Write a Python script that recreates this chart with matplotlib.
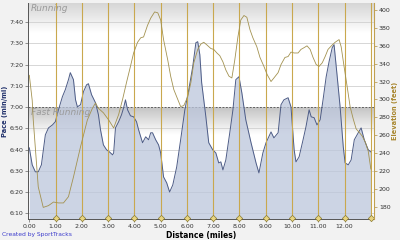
import matplotlib
matplotlib.use("Agg")
import matplotlib.pyplot as plt
import numpy as np

# ---- data ----
pace_dist = [0.00, 0.11, 0.23, 0.34, 0.46, 0.61, 0.73, 0.88, 0.99, 1.11, 1.26, 1.37, 1.49, 1.56,
             1.68, 1.76, 1.83, 1.95, 2.06, 2.18, 2.25, 2.37, 2.52, 2.63, 2.71, 2.82, 2.94, 3.05,
             3.17, 3.21, 3.28, 3.40, 3.51, 3.59, 3.66, 3.74, 3.85, 3.97, 4.08, 4.16, 4.31, 4.43,
             4.54, 4.62, 4.69, 4.81, 4.92, 5.00, 5.11, 5.23, 5.34, 5.46, 5.61, 5.76, 5.92, 6.07,
             6.22, 6.34, 6.41, 6.49, 6.56, 6.72, 6.83, 6.98, 7.10, 7.21, 7.29, 7.37, 7.48, 7.63,
             7.75, 7.86, 7.98, 8.09, 8.24, 8.44, 8.63, 8.74, 8.89, 9.01, 9.20, 9.31, 9.47, 9.58,
             9.69, 9.85, 9.96, 10.08, 10.15, 10.27, 10.42, 10.53, 10.65, 10.73, 10.84, 10.95,
             11.07, 11.18, 11.30, 11.41, 11.53, 11.60, 11.72, 11.83, 11.95, 12.02, 12.14, 12.25,
             12.37, 12.52, 12.63, 12.75, 12.90, 13.00]
pace_sec = [400.8, 392.8, 389.5, 389.5, 392.8, 406.9, 410.2, 411.6, 413.1, 418.7, 424.9, 428.2,
            432.9, 436.2, 432.9, 423.4, 420.1, 421.1, 427.2, 430.5, 431.0, 425.8, 422.0, 416.4,
            409.3, 402.2, 399.9, 398.9, 397.5, 398.4, 410.2, 413.1, 416.4, 419.7, 423.4, 418.7,
            415.9, 415.4, 413.1, 409.3, 403.2, 406.0, 404.6, 407.9, 407.9, 404.6, 402.2, 398.4,
            387.1, 384.3, 380.0, 383.3, 391.8, 404.6, 418.7, 428.2, 439.0, 450.3, 450.8, 444.7,
            431.5, 415.4, 403.2, 399.9, 398.4, 393.7, 394.2, 390.4, 395.1, 407.9, 418.7, 432.9,
            434.3, 426.7, 414.0, 403.2, 393.7, 389.0, 398.4, 403.2, 408.3, 405.5, 407.9, 421.1,
            423.4, 424.4, 420.1, 399.9, 394.2, 396.6, 404.6, 410.7, 418.7, 415.4, 415.0, 411.6,
            414.0, 423.4, 434.3, 441.4, 448.0, 449.4, 434.3, 420.1, 401.3, 393.7, 392.8, 395.1,
            404.6, 407.9, 410.2, 404.6, 399.9, 398.9]

elev_dist = [0.00, 0.11, 0.15, 0.34, 0.53, 0.73, 0.92, 1.11, 1.30, 1.49, 1.68, 1.95, 2.21, 2.40,
             2.52, 2.63, 2.82, 3.02, 3.21, 3.40, 3.55, 3.70, 3.85, 3.97, 4.12, 4.24, 4.35, 4.50,
             4.62, 4.77, 4.89, 5.00, 5.11, 5.27, 5.38, 5.50, 5.65, 5.76, 5.88, 6.03, 6.15, 6.26,
             6.41, 6.53, 6.64, 6.76, 6.91, 7.02, 7.14, 7.25, 7.37, 7.48, 7.60, 7.71, 7.82, 7.94,
             8.05, 8.17, 8.28, 8.40, 8.51, 8.66, 8.78, 8.93, 9.05, 9.20, 9.31, 9.47, 9.58, 9.73,
             9.85, 9.96, 10.08, 10.23, 10.34, 10.46, 10.57, 10.69, 10.80, 10.92, 11.03, 11.15,
             11.26, 11.37, 11.53, 11.64, 11.79, 11.87, 11.98, 12.10, 12.21, 12.33, 12.44, 12.56,
             12.67, 12.79, 12.90, 13.00]
elev_ft = [327, 299, 277, 202, 179, 181, 185, 184, 184, 191, 213, 247, 277, 290, 296, 290, 285,
           277, 268, 283, 300, 319, 337, 352, 364, 369, 370, 383, 391, 398, 397, 389, 367, 344,
           326, 311, 300, 292, 293, 303, 319, 341, 356, 362, 364, 361, 357, 356, 352, 349, 342,
           333, 326, 324, 344, 370, 389, 394, 392, 378, 369, 359, 347, 337, 328, 320, 324, 330,
           339, 347, 348, 353, 352, 352, 356, 358, 360, 356, 347, 339, 337, 341, 348, 356, 361,
           364, 367, 359, 337, 314, 292, 278, 267, 263, 259, 252, 242, 222]

lap_marks = [1, 2, 3, 4, 5, 6, 7, 8, 9, 10, 11, 12, 13.0]
x_ticks = [0, 1, 2, 3, 4, 5, 6, 7, 8, 9, 10, 11, 12]
pace_ticks = [370, 380, 390, 400, 410, 420, 430, 440, 450, 460]
pace_labels = ["6:10", "6:20", "6:30", "6:40", "6:50", "7:00", "7:10", "7:20", "7:30", "7:40"]
elev_ticks = [180, 200, 220, 240, 260, 280, 300, 320, 340, 360, 380, 400]
zone_limit = 420  # 7:00 boundary between "Fast Running" and "Running"

# ---- figure ----
fig = plt.figure(figsize=(4.0, 2.4), dpi=100, facecolor="#f2f2f2")
ax = fig.add_axes([0.07, 0.0875, 0.865, 0.9])
ax.set_facecolor("white")
xmin, xmax = -0.05, 13.12
pmin, pmax = 367.3, 469.0
ax.set_xlim(xmin, xmax)
ax.set_ylim(pmin, pmax)

# zone gradients
top_grad = np.linspace(0, 1, 64).reshape(-1, 1)
cmap_top = matplotlib.colors.LinearSegmentedColormap.from_list("t", ["#ffffff", "#d6d6d6"])
ax.imshow(top_grad, extent=[xmin, xmax, 455, pmax], origin="lower", aspect="auto",
          cmap=cmap_top, zorder=0.2)
cmap_fast = matplotlib.colors.LinearSegmentedColormap.from_list("f", ["#ffffff", "#c4c4c4"])
ax.imshow(top_grad, extent=[xmin, xmax, 407, zone_limit], origin="lower", aspect="auto",
          cmap=cmap_fast, zorder=0.2)

# grid
for t in pace_ticks:
    ax.axhline(t, color="#d0d0d0", lw=0.6, zorder=0.3)
ax.axhline(zone_limit, color="#606060", lw=0.7, ls=(0, (2, 1.5)), zorder=0.35)

# pace area
ax.fill_between(pace_dist, pmin, pace_sec, color="#bcc6dc", alpha=0.75, lw=0, zorder=1)
ax.plot(pace_dist, pace_sec, color="#4d5c86", lw=0.7, zorder=2)

# lap lines
for m in lap_marks:
    ax.axvline(m, color="#c9a84e", lw=0.8, zorder=3)
ax.plot(lap_marks, [pmin + 0.4] * len(lap_marks), ls="none", marker="D", ms=3.2,
        mfc="#e8d480", mec="#8a7a30", mew=0.5, zorder=5, clip_on=False)

ax.text(0.05, 466.5, "Running", style="italic", fontsize=6.5, color="#9a9a9a",
        ha="left", va="center", zorder=4)
ax.text(0.05, 417.5, "Fast Running", style="italic", fontsize=6.5, color="#9a9a9a",
        ha="left", va="center", zorder=4)

ax.set_xticks(x_ticks)
ax.set_xticklabels([f"{v:.2f}" for v in x_ticks], fontsize=4.5, color="#333333")
ax.set_yticks(pace_ticks)
ax.set_yticklabels(pace_labels, fontsize=4.5, color="#333333")
ax.tick_params(length=2, width=0.5, pad=1.5, color="#666666")
ax.set_xlabel("Distance (miles)", fontsize=5.5, fontweight="bold", labelpad=1.5)
ax.set_ylabel("Pace (min/mi)", fontsize=4.8, fontweight="bold", color="#1f2f6a", labelpad=1)
for s in ["top", "right"]:
    ax.spines[s].set_visible(False)
ax.spines["left"].set_color("#555555")
ax.spines["bottom"].set_color("#555555")
ax.spines["left"].set_linewidth(0.7)
ax.spines["bottom"].set_linewidth(0.7)

# elevation
ax2 = ax.twinx()
ax2.set_ylim(166, 408)
ax2.plot(elev_dist, elev_ft, color="#a39250", lw=0.6, zorder=4)
ax2.set_yticks(elev_ticks)
ax2.set_yticklabels([str(v) for v in elev_ticks], fontsize=4.5, color="#333333")
ax2.tick_params(length=2, width=0.5, pad=1.5, color="#b09040")
ax2.set_ylabel("Elevation (feet)", fontsize=4.8, fontweight="bold", color="#a8862e", labelpad=1)
for s in ["top", "left", "bottom"]:
    ax2.spines[s].set_visible(False)
ax2.spines["right"].set_color("#c0a050")
ax2.spines["right"].set_linewidth(0.8)

fig.text(0.005, 0.012, "Created by SportTracks", fontsize=4.3, color="#3a3acc",
         ha="left", va="bottom")

fig.savefig("out.png", dpi=100, facecolor=fig.get_facecolor())
